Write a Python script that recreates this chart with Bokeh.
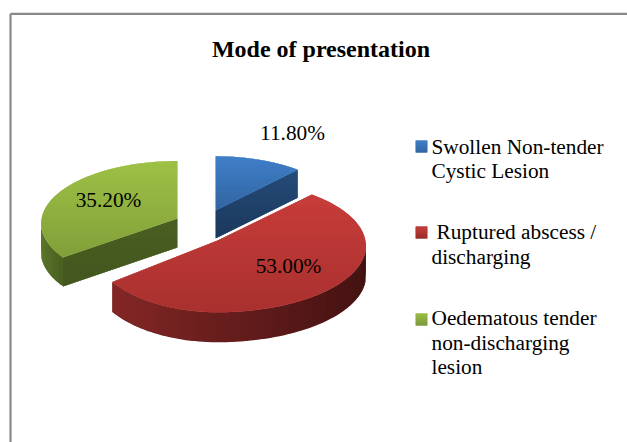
import numpy as np
from bokeh.plotting import figure
from bokeh.models import Range1d
from bokeh.core.properties import value
from bokeh.embed import file_html
from bokeh.resources import INLINE

# ---- data ----
title_text = "Mode of presentation"
slice_values = [11.8, 53.0, 35.2]
slice_labels = ["11.80%", "53.00%", "35.20%"]
legend_lines = [["Swollen Non-tender", "Cystic Lesion"],
                ["Ruptured abscess /", "discharging"],
                ["Oedematous tender", "non-discharging", "lesion"]]

# ---- styling / layout ----
SERIF = value("Liberation Serif")
W, H = 627, 442
top_cols = [("#4283cf", "#2f6199"), ("#cc3f3c", "#a32f2d"), ("#a2c648", "#7c9a38")]
swatch_cols = [("#4283cf", "#2f6199"), ("#cc3f3c", "#8f2a28"), ("#9fc245", "#76923c")]
face_cols = [("#264f7e", "#1a3557"), None, ("#4c6124", "#42551e")]
wall_cols = [None, ("#8e2b29", "#3a0f0f"), ("#5f7a2c", "#46591f")]
# cx, cy, rx left, rx right, ry, depth for each exploded slice
geom = [(215, 210, 129, 129, 58.5, 28),
        (217, 240, 125, 148, 66, 30),
        (177, 218, 136, 136, 62, 29)]
K = 0.08
label_pos = [(292, 132), (288, 265), (108, 199)]
legend_y = [[146, 170], [231, 256], [317, 342, 366]]
legend_x = [431, 436, 431]
swatch_y = [146, 232, 319]


def hex2rgb(c):
    return np.array([int(c[i:i + 2], 16) for i in (1, 3, 5)], float)


def mix(a, b, t):
    r = hex2rgb(a) * (1 - t) + hex2rgb(b) * t
    return "#%02x%02x%02x" % tuple(int(round(v)) for v in r)


def proj(g, th):
    cx, cy, rl, rr, ry, _ = g
    u, v = np.sin(th), np.cos(th)
    w = 1 + K * v
    r = np.where(u < 0, rl, rr)
    return cx + r * u / w, cy - ry * v / w


def row_spans(px, py):
    """Even-odd horizontal spans of a polygon on whole-pixel rows."""
    out = []
    n = len(px)
    for y in range(int(np.floor(py.min())), int(np.ceil(py.max()))):
        yc = y + 0.5
        xs = []
        for i in range(n):
            x0, y0, x1, y1 = px[i], py[i], px[(i + 1) % n], py[(i + 1) % n]
            if (y0 <= yc) != (y1 <= yc):
                xs.append(x0 + (yc - y0) / (y1 - y0) * (x1 - x0))
        xs.sort()
        for a, b in zip(xs[0::2], xs[1::2]):
            out.append((a, b, y))
    return out


p = figure(width=W, height=H, x_range=Range1d(0, W), y_range=Range1d(H, 0),
           output_backend="svg", toolbar_location=None, min_border=0,
           background_fill_color="white", border_fill_color="white")
p.axis.visible = False
p.grid.visible = False
p.outline_line_color = None

# chart frame: open towards the right and the bottom of the page
p.line([10, 10], [H, 13.3], line_color="#8a8a8a", line_width=2.2)
p.line([10, W], [13.3, 13.3], line_color="#8a8a8a", line_width=2.2)


def gradient_poly(px, py, c0, c1):
    p.patch(list(px), list(py), fill_color=mix(c0, c1, .5), line_color=None)
    rows = row_spans(px, py)
    y0, y1 = py.min(), py.max()
    p.quad(left=[r[0] + .4 for r in rows], right=[r[1] - .4 for r in rows],
           top=[r[2] for r in rows], bottom=[r[2] + 1 for r in rows],
           fill_color=[mix(c0, c1, (r[2] - y0) / (y1 - y0)) for r in rows], line_color=None)


def wall(xt, yt, depth, c0, c1):
    """side wall below the rim xt,yt (xt ascending): colour runs along x, drawn in 1px columns"""
    xt, yt = np.asarray(xt), np.asarray(yt)
    tmid = mix(c0, c1, .5)
    p.patch(list(xt) + list(xt[::-1]), list(yt) + list(yt[::-1] + depth), fill_color=tmid, line_color=None)
    cols = np.arange(int(np.ceil(xt.min())), int(np.floor(xt.max())))
    tops = np.interp(cols + .5, xt, yt)
    span = max(xt.max() - xt.min(), 1)
    p.quad(left=list(cols), right=list(cols + 1), top=list(tops), bottom=list(tops + depth - .6),
           fill_color=[mix(c0, c1, (c + .5 - xt.min()) / span) for c in cols], line_color=None)


total = sum(slice_values)
edges = np.concatenate([[0], np.cumsum(slice_values)]) / total * 2 * np.pi
for i in (2, 0, 1):
    g = geom[i]
    a0, a1 = edges[i], edges[i + 1]
    th = np.linspace(a0, a1, 160)
    ax, ay = proj(g, th)
    cx, cy, depth = g[0], g[1], g[5]

    # visible outer wall (front half of the rim)
    if wall_cols[i]:
        lo, hi = max(a0, np.pi / 2), min(a1, 3 * np.pi / 2)
        tw = np.linspace(lo, hi, 80)
        wx, wy = proj(g, tw)
        order = np.argsort(wx)
        wall(wx[order], wy[order], depth, *wall_cols[i])

    # visible cut face
    if face_cols[i]:
        ex, ey = (ax[-1], ay[-1]) if i == 0 else (ax[0], ay[0])
        fx = np.array([cx, ex, ex, cx], float)
        fy = np.array([cy, ey, ey + depth, cy + depth], float)
        gradient_poly(fx, fy, *face_cols[i])

    # top surface
    px = np.concatenate([[cx], ax])
    py = np.concatenate([[cy], ay])
    gradient_poly(px, py, *top_cols[i])

# texts
p.text([320.5], [48], text=[title_text], text_font=SERIF, text_font_size="24px", text_font_style="bold",
       text_align="center", text_baseline="middle", text_color="black")
p.text([q[0] for q in label_pos], [q[1] for q in label_pos], text=slice_labels, text_font=SERIF,
       text_font_size="21.3px", text_align="center", text_baseline="middle", text_color="black")

for j, lines in enumerate(legend_lines):
    sx, sy = 421, swatch_y[j]
    gradient_poly(np.array([sx - 6., sx + 6, sx + 6, sx - 6]), np.array([sy - 6., sy - 6, sy + 6, sy + 6]), *swatch_cols[j])
    xs = [legend_x[j] if k == 0 else 431 for k in range(len(lines))]
    p.text(xs, legend_y[j], text=lines, text_font=SERIF, text_font_size="21.3px",
           text_align="left", text_baseline="middle", text_color="black")

open("out.html", "w").write(file_html(p, INLINE))
